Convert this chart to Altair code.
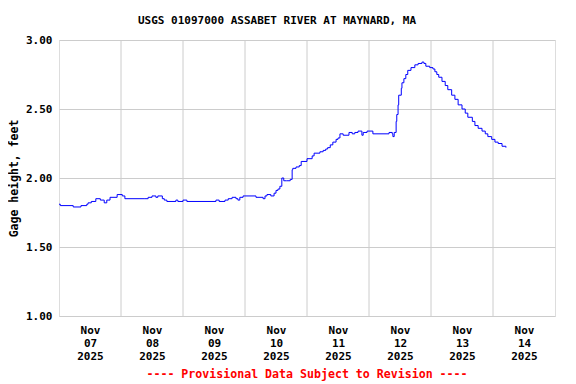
import altair as alt
import pandas as pd

# Hours since 2025-11-07 00:00 and gage height (ft)
hours = [0, 0.5, 5.5, 8.5, 10.75, 11.25, 12.5, 14.25, 16, 17.5, 18.5, 19.75, 22.5, 24.5, 25.5,
         33.25, 34.5, 36, 37.5, 38.25, 40, 40.75, 41.75, 45.25, 46, 48, 49.5, 60.75, 62, 64.25, 65.5, 67,
         68.5, 69.25, 70, 71.25, 76.25, 79, 79.75, 80.5, 82, 83.25, 84, 84.75, 85.5, 86.25, 87, 88,
         89.5, 90.25, 90.5, 91.75, 93,
         93.75, 96, 98, 98.75, 101, 102.25, 103.25, 104, 105, 106, 107.25, 108, 108.75, 110, 112.25,
         113.5, 114.5, 115.75, 117.25, 117.75, 119.25, 121.5, 127.75,
         129, 129.25, 129.75, 130.5, 130.75, 131.25, 131.5, 132.5, 132.75, 133.5, 134.25, 135, 136.25,
         137.75, 139, 140.5, 141.25, 142, 143.5, 144.75, 145.5, 146.25, 147, 148.25, 149.5, 150.5, 152,
         153.25, 154.5, 156, 157.25, 158.25, 160, 161, 162.25, 163.75, 165, 166, 167.5, 168.75, 170,
         171.5, 173]
stage = [1.81, 1.80, 1.79, 1.80, 1.81, 1.82, 1.83, 1.85, 1.84, 1.82, 1.84, 1.86, 1.88, 1.87, 1.85,
         1.85, 1.86, 1.87, 1.86, 1.87, 1.85, 1.84, 1.83, 1.84, 1.83, 1.84, 1.83, 1.84, 1.83, 1.84, 1.85, 1.86,
         1.85, 1.84, 1.86, 1.87, 1.86, 1.85, 1.87, 1.88, 1.87, 1.89, 1.91, 1.92, 1.94, 2.00, 1.98, 1.98,
         1.99, 2.06, 2.07, 2.08, 2.09,
         2.12, 2.14, 2.16, 2.18, 2.19, 2.20, 2.21, 2.22, 2.24, 2.26, 2.28, 2.29, 2.32, 2.31, 2.33,
         2.32, 2.33, 2.34, 2.31, 2.33, 2.34, 2.32, 2.33,
         2.32, 2.30, 2.33, 2.41, 2.46, 2.53, 2.60, 2.65, 2.69, 2.72, 2.75, 2.78, 2.80,
         2.82, 2.83, 2.84, 2.83, 2.81, 2.80, 2.79, 2.77, 2.75, 2.73, 2.70, 2.67, 2.64, 2.60,
         2.57, 2.53, 2.50, 2.47, 2.44, 2.41, 2.38, 2.36, 2.34, 2.32, 2.30, 2.28, 2.26, 2.25,
         2.23, 2.22]

day_bounds = [24, 48, 72, 96, 120, 144, 168]
label_hours = [12, 36, 60, 84, 108, 132, 156, 180]
day_labels = ["07", "08", "09", "10", "11", "12", "13", "14"]
y_ticks = [1.0, 1.5, 2.0, 2.5, 3.0]
title_text = "USGS 01097000 ASSABET RIVER AT MAYNARD, MA"
note_text = "---- Provisional Data Subject to Revision ----"

FONT = "DejaVu Sans Mono"
df = pd.DataFrame({"hour": hours, "stage": stage})
grid_df = pd.DataFrame({"d": day_bounds})

x_scale = alt.Scale(domain=[0, 192], nice=False, zero=False)
y_scale = alt.Scale(domain=[1, 3], nice=False, zero=False)

label_expr = "['Nov', " + str(day_labels) + "[floor(datum.value/24)], '2025']"
x_axis = alt.Axis(values=label_hours, labelExpr=label_expr, grid=False, ticks=False, domain=False,
                  title=None, labelFont=FONT, labelFontSize=11, labelFontWeight="bold",
                  labelColor="black", labelPadding=8, labelLineHeight=13, labelBaseline="top")
y_axis = alt.Axis(values=y_ticks, format=".2f", grid=True, gridColor="#cccccc", ticks=False,
                  domain=False, title="Gage height, feet", labelFont=FONT, labelFontSize=11,
                  labelFontWeight="bold", labelColor="black", labelPadding=7, titleFont=FONT,
                  titleFontSize=11.5, titleFontWeight="bold", titleColor="black", titlePadding=6)

grid = alt.Chart(grid_df).mark_rule(color="#cccccc", strokeWidth=1).encode(
    x=alt.X("d:Q", scale=x_scale, axis=x_axis)
)
line = alt.Chart(df).mark_line(color="#0000ff", strokeWidth=1, interpolate="step-after").encode(
    x=alt.X("hour:Q", scale=x_scale, axis=x_axis),
    y=alt.Y("stage:Q", scale=y_scale, axis=y_axis),
)
note = alt.Chart(pd.DataFrame({"t": [note_text]})).mark_text(
    font=FONT, fontSize=11.6, fontWeight="bold", color="#ff0000", baseline="middle", align="center"
).encode(text="t:N", x=alt.value(248), y=alt.value(335))

chart = alt.layer(grid, line, note).properties(
    width=496, height=276,
    title=alt.TitleParams(title_text, font=FONT, fontSize=11, fontWeight="bold", color="black",
                          anchor="middle", dx=-30, offset=8),
    autosize=alt.AutoSizeParams(type="none"),
    padding={"left": 51, "top": 32, "right": 13, "bottom": 66},
).configure_view(stroke="black", strokeWidth=1).configure(background="white")

chart.save("out.html", embed_options={"renderer": "svg", "actions": False})
